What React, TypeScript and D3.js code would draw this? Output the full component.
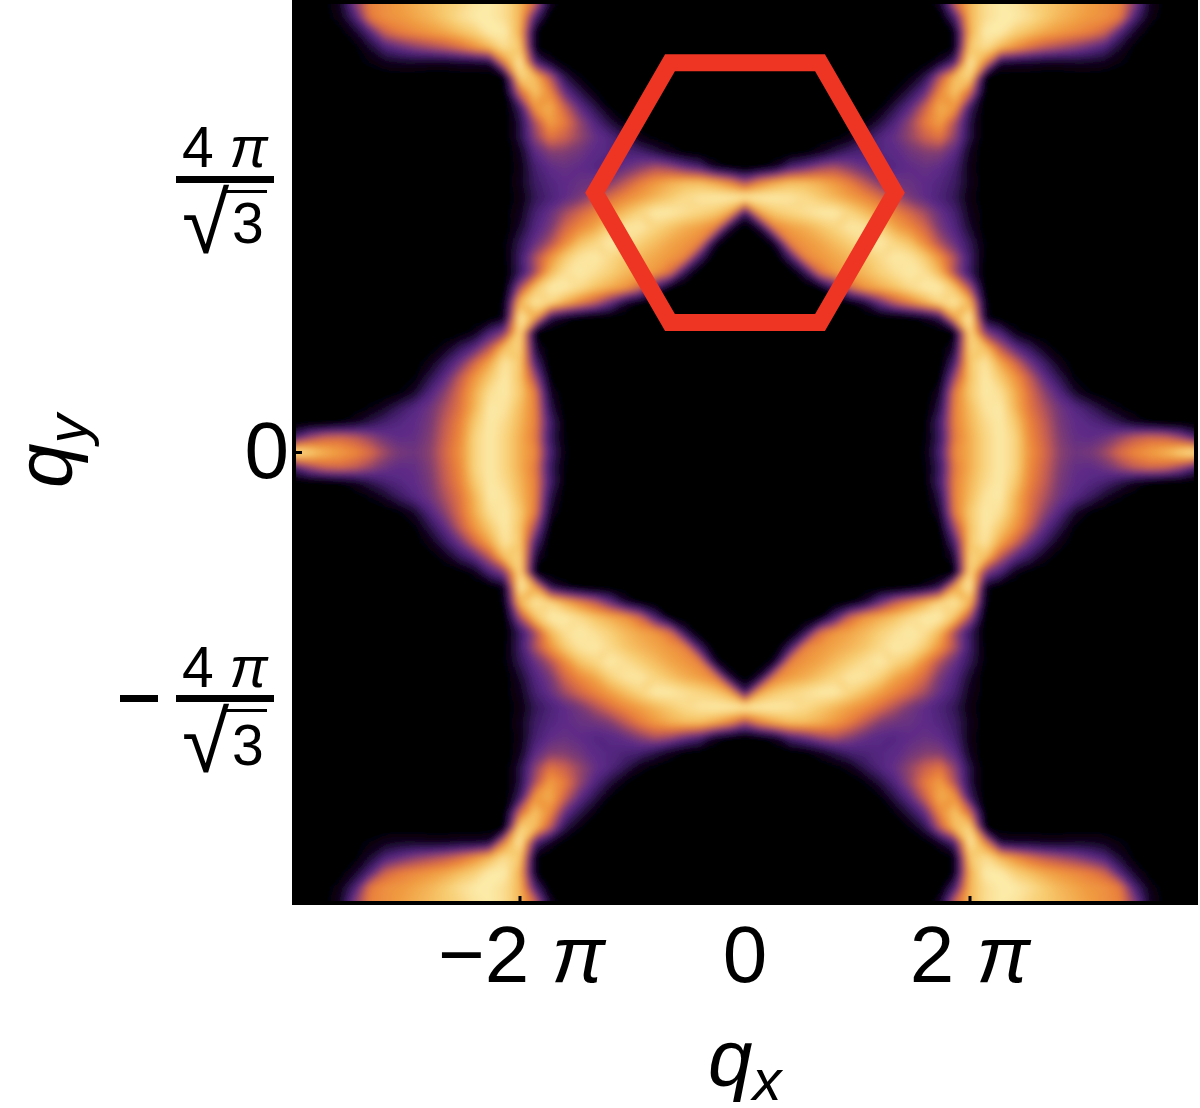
import React from 'react';
import * as d3 from 'd3';

// intensity (0-100), upper right quadrant, one sample every 15px.
// rows go from qy = 0 upwards, columns from qx = 0 to the right, trailing zeros left out.
// the plot is mirrored left/right and up/down so the other quadrants reuse these readings
const intensity: number[][] = [
  [0,0,0,0,0,0,0,0,0,0,0,0,5,30,70,80,92,100,92,72,60,46,40,42,50,62,70,76,82,92,100],
  [0,0,0,0,0,0,0,0,0,0,0,0,4,25,66,80,92,100,92,70,58,44,37,36,40,48,56,60,58,48,30],
  [0,0,0,0,0,0,0,0,0,0,0,0,3,28,68,82,94,100,88,68,56,42,36,33,28,20,10,3],
  [0,0,0,0,0,0,0,0,0,0,0,0,0,20,68,84,98,100,82,64,52,40,33,24,13,5,1],
  [0,0,0,0,0,0,0,0,0,0,0,0,0,12,66,88,100,96,80,62,46,32,14,4],
  [0,0,0,0,0,0,0,0,0,0,0,0,0,3,50,86,100,88,74,56,36,20,4,1],
  [0,0,0,0,0,0,0,0,0,0,0,0,0,0,30,88,98,78,60,40,24,8,1],
  [0,0,0,0,0,0,0,0,0,0,0,0,0,0,15,92,85,55,35,22,8,1],
  [0,0,0,0,0,0,0,0,0,0,0,0,0,0,3,95,45,30,8,1],
  [0,0,0,0,0,0,0,0,0,0,0,1,8,22,78,100,8],
  [0,0,0,0,0,0,0,2,15,38,56,68,80,93,98,82,5],
  [0,0,0,0,0,2,30,60,74,80,86,94,100,100,85,50,1],
  [0,0,0,0,20,62,74,78,83,90,96,100,96,82,50,24,2],
  [0,0,0,25,68,74,78,82,87,94,100,98,88,72,52,26,3],
  [0,0,12,68,74,78,84,90,96,100,92,85,70,52,38,22,4],
  [0,15,68,76,80,86,92,99,98,90,78,70,60,42,32,14,1],
  [25,78,88,92,96,100,100,92,84,76,68,60,50,38,28,10,2],
  [100,100,100,98,94,88,82,76,70,62,52,42,36,30,22,7,1],
  [50,68,78,84,84,80,74,66,55,44,40,38,36,32,25,10,1],
  [0,2,10,30,38,48,52,45,38,34,33,36,38,36,28,8],
  [0,0,0,0,3,10,20,28,30,33,35,40,44,44,35,10],
  [0,0,0,0,0,0,3,8,22,32,38,48,58,64,46,18],
  [0,0,0,0,0,0,0,0,5,18,32,48,66,76,52,18],
  [0,0,0,0,0,0,0,0,0,4,20,36,58,80,74,25],
  [0,0,0,0,0,0,0,0,0,0,5,20,38,70,86,60,1],
  [0,0,0,0,0,0,0,0,0,0,0,5,20,55,85,92,3],
  [0,0,0,0,0,0,0,0,0,0,0,0,2,12,32,100,70,15,12,12,10,10,12,12,10,5,2],
  [0,0,0,0,0,0,0,0,0,0,0,0,0,0,5,88,95,82,72,62,55,50,45,38,30,14,3],
  [0,0,0,0,0,0,0,0,0,0,0,0,0,0,6,80,100,100,90,84,78,74,70,66,58,32,12,2],
  [0,0,0,0,0,0,0,0,0,0,0,0,0,1,30,82,95,100,100,95,88,82,78,74,72,65,30,8,1],
  [0,0,0,0,0,0,0,0,0,0,0,0,0,12,60,82,95,100,98,92,88,84,80,76,72,68,45,12,2],
];

const PI = Math.PI;
const xTicks = [-2 * PI, 0, 2 * PI];
const yTicks = [-4 * PI / Math.sqrt(3), 0, 4 * PI / Math.sqrt(3)];

// first Brillouin zone shifted up by 4pi/sqrt(3), in units of q
const zoneCenter = [0, 4 * PI / Math.sqrt(3)];
const zoneRadius = 4 * PI / 3;
const zoneAngles = [0, 60, 120, 180, 240, 300];

const colorStops = [0, 12, 25, 35, 45, 55, 65, 75, 87, 100];
const colorValues = ['#000000', '#12071f', '#3f1d66', '#5c2b88', '#85406f', '#c05a55', '#e67a3c', '#f19d42', '#f7c96c', '#fcebaa'];

const x = d3.scaleLinear().domain([-2 * PI, 2 * PI]).range([520, 970]);
const y = d3.scaleLinear().domain([-2 * PI, 2 * PI]).range([677.5, 227.5]);
const color = d3.scaleLinear<string>().domain(colorStops).range(colorValues).interpolate(d3.interpolateRgb);

const half = intensity.length - 1;
const size = 2 * half + 1;
const gridValues: number[] = [];
for (let j = half; j >= -half; j--) {
  for (let i = -half; i <= half; i++) {
    gridValues.push(intensity[Math.abs(j)][Math.abs(i)] ?? 0);
  }
}

// grid index -> pixel, 15px a sample
const qStep = (2 * PI) / 15;
const gridX = (i: number) => x((i - 0.5 - half) * qStep);
const gridY = (j: number) => y((half - (j - 0.5)) * qStep);

const contours = d3.contours().size([size, size]).thresholds(d3.range(0.5, 100.5, 1))(gridValues);
const path = d3.geoPath(d3.geoTransform({
  point(px: number, py: number) {
    (this as any).stream.point(gridX(px), gridY(py));
  },
}));

const zoneLine = d3.line().curve(d3.curveLinearClosed)(
  zoneAngles.map((a) => {
    const t = (a * PI) / 180;
    return [
      x(zoneCenter[0] + zoneRadius * Math.cos(t)),
      y(zoneCenter[1] + zoneRadius * Math.sin(t)),
    ] as [number, number];
  }),
);

const font = '"Liberation Sans", Arial, sans-serif';

function Fraction({ top, bar, root, over }: { top: number; bar: number; root: number; over: number }) {
  return (
    <g>
      <text x={182} y={top} fontSize={57}>4<tspan fontStyle="italic"> π</tspan></text>
      <rect x={176} y={bar} width={98} height={7} fill="#000" />
      <text x={182} y={over + 63} fontSize={86}>√</text>
      <rect x={225} y={over} width={42} height={3} fill="#000" />
      <text x={232} y={root} fontSize={57}>3</text>
    </g>
  );
}

export default function App() {
  return (
    <svg width={1200} height={1108} style={{ position: 'absolute', left: 0, top: 0 }} fontFamily={font}>
      <defs>
        <clipPath id="plotArea">
          <rect x={296} y={4} width={898} height={897} />
        </clipPath>
        <filter id="soft" x="-2%" y="-2%" width="104%" height="104%">
          <feGaussianBlur stdDeviation={3} />
        </filter>
      </defs>

      <rect x={292} y={0} width={906} height={905} fill="#000" />
      <g clipPath="url(#plotArea)">
        <g filter="url(#soft)">
          {contours.map((c) => (
            <path key={c.value} d={path(c as any) ?? ''} fill={color(c.value)} />
          ))}
        </g>
      </g>

      {/* ticks */}
      {xTicks.map((t) => (
        <rect key={t} x={x(t) - 1.5} y={896} width={3} height={6} fill="#000" />
      ))}
      {yTicks.map((t) => (
        <rect key={t} x={295} y={y(t) - 1.5} width={7} height={3} fill="#000" />
      ))}

      <path d={zoneLine ?? ''} fill="none" stroke="#ee3524" strokeWidth={17} strokeLinejoin="miter" />

      {/* x tick labels */}
      <text x={x(-2 * PI) - 82} y={982} fontSize={80}>−2<tspan fontStyle="italic"> π</tspan></text>
      <text x={x(0)} y={982} fontSize={80} textAnchor="middle">0</text>
      <text x={x(2 * PI)} y={982} fontSize={80} textAnchor="middle">2<tspan fontStyle="italic"> π</tspan></text>

      {/* y tick labels */}
      <text x={289} y={478} fontSize={80} textAnchor="end">0</text>
      <Fraction top={167} bar={176} root={243} over={190} />
      <Fraction top={687} bar={695} root={765} over={709} />
      <rect x={120} y={695} width={38} height={7} fill="#000" />

      {/* axis titles */}
      <text x={708} y={1085} fontSize={80} fontStyle="italic">q<tspan fontSize={58} dy={15}>x</tspan></text>
      <text transform="translate(71,488) rotate(-90)" fontSize={80} fontStyle="italic">q<tspan fontSize={58} dy={16}>y</tspan></text>
    </svg>
  );
}
